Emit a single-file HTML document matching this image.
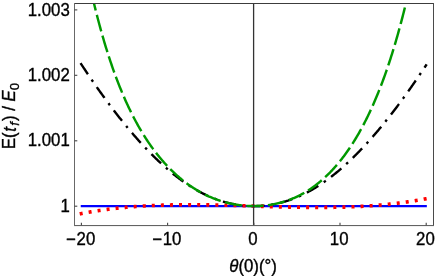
<!DOCTYPE html>
<html><head><meta charset="utf-8"><style>
html,body{margin:0;padding:0;background:#fff;}
body{width:436px;height:276px;overflow:hidden;position:relative;font-family:"Liberation Sans",sans-serif;}
svg{position:absolute;left:0;top:0;}
text{stroke:#000;stroke-width:0.35px;font-family:"Liberation Sans",sans-serif;font-size:17.5px;fill:#000;}
</style></head><body>
<svg width="436" height="276" viewBox="0 0 436 276">
<defs><clipPath id="c"><rect x="74.5" y="3.4" width="359.0" height="221.9"/></clipPath></defs>
<rect x="0" y="0" width="436" height="276" fill="#fff"/>
<g clip-path="url(#c)" fill="none">
<path d="M80.74 206.10 L253.78 206.10 L426.83 206.10" stroke="#0000ff" stroke-width="2.1"/>
<path d="M80.57 63.17 L81.14 64.05 L81.72 64.93 L82.30 65.81 L82.88 66.68 L83.45 67.55 L84.03 68.42 L84.61 69.29 L85.19 70.16 L85.77 71.02 L86.34 71.89 L86.92 72.75 L87.50 73.60 L88.08 74.46 L88.65 75.32 L89.23 76.17 L89.81 77.02 L90.39 77.87 L90.97 78.71 L91.54 79.56 L92.12 80.40 L92.70 81.24 L93.28 82.07 L93.85 82.91 L94.43 83.74 L95.01 84.57 L95.59 85.40 L96.17 86.23 L96.74 87.05 L97.32 87.87 L97.90 88.69 L98.48 89.51 L99.05 90.33 L99.63 91.14 L100.21 91.95 L100.79 92.76 L101.37 93.57 L101.94 94.37 L102.52 95.17 L103.10 95.97 L103.68 96.77 L104.25 97.57 L104.83 98.36 L105.41 99.15 L105.99 99.94 L106.57 100.72 L107.14 101.51 L107.72 102.29 L108.30 103.07 L108.88 103.84 L109.45 104.62 L110.03 105.39 L110.61 106.16 L111.19 106.93 L111.77 107.69 L112.34 108.45 L112.92 109.21 L113.50 109.97 L114.08 110.73 L114.65 111.48 L115.23 112.23 L115.81 112.98 L116.39 113.72 L116.97 114.47 L117.54 115.21 L118.12 115.95 L118.70 116.68 L119.28 117.41 L119.85 118.15 L120.43 118.87 L121.01 119.60 L121.59 120.32 L122.17 121.04 L122.74 121.76 L123.32 122.48 L123.90 123.19 L124.48 123.90 L125.06 124.61 L125.63 125.31 L126.21 126.02 L126.79 126.72 L127.37 127.42 L127.94 128.11 L128.52 128.80 L129.10 129.49 L129.68 130.18 L130.26 130.87 L130.83 131.55 L131.41 132.23 L131.99 132.91 L132.57 133.58 L133.14 134.25 L133.72 134.92 L134.30 135.59 L134.88 136.25 L135.46 136.91 L136.03 137.57 L136.61 138.23 L137.19 138.88 L137.77 139.53 L138.34 140.18 L138.92 140.82 L139.50 141.46 L140.08 142.10 L140.66 142.74 L141.23 143.37 L141.81 144.01 L142.39 144.63 L142.97 145.26 L143.54 145.88 L144.12 146.50 L144.70 147.12 L145.28 147.73 L145.86 148.35 L146.43 148.95 L147.01 149.56 L147.59 150.16 L148.17 150.76 L148.74 151.36 L149.32 151.96 L149.90 152.55 L150.48 153.14 L151.06 153.72 L151.63 154.31 L152.21 154.89 L152.79 155.46 L153.37 156.04 L153.94 156.61 L154.52 157.18 L155.10 157.74 L155.68 158.31 L156.26 158.87 L156.83 159.42 L157.41 159.98 L157.99 160.53 L158.57 161.07 L159.14 161.62 L159.72 162.16 L160.30 162.70 L160.88 163.23 L161.46 163.77 L162.03 164.30 L162.61 164.82 L163.19 165.35 L163.77 165.87 L164.34 166.38 L164.92 166.90 L165.50 167.41 L166.08 167.92 L166.66 168.42 L167.23 168.92 L167.81 169.42 L168.39 169.92 L168.97 170.41 L169.54 170.90 L170.12 171.38 L170.70 171.87 L171.28 172.34 L171.86 172.82 L172.43 173.29 L173.01 173.76 L173.59 174.23 L174.17 174.69 L174.74 175.15 L175.32 175.61 L175.90 176.06 L176.48 176.51 L177.06 176.96 L177.63 177.40 L178.21 177.84 L178.79 178.28 L179.37 178.71 L179.94 179.14 L180.52 179.57 L181.10 179.99 L181.68 180.42 L182.26 180.83 L182.83 181.25 L183.41 181.66 L183.99 182.06 L184.57 182.47 L185.14 182.87 L185.72 183.26 L186.30 183.66 L186.88 184.05 L187.46 184.43 L188.03 184.82 L188.61 185.19 L189.19 185.57 L189.77 185.94 L190.34 186.31 L190.92 186.68 L191.50 187.04 L192.08 187.40 L192.66 187.76 L193.23 188.11 L193.81 188.46 L194.39 188.80 L194.97 189.14 L195.54 189.48 L196.12 189.82 L196.70 190.15 L197.28 190.47 L197.86 190.80 L198.43 191.12 L199.01 191.44 L199.59 191.75 L200.17 192.06 L200.74 192.37 L201.32 192.67 L201.90 192.97 L202.48 193.27 L203.06 193.56 L203.63 193.85 L204.21 194.13 L204.79 194.42 L205.37 194.70 L205.94 194.97 L206.52 195.24 L207.10 195.51 L207.68 195.78 L208.26 196.04 L208.83 196.30 L209.41 196.55 L209.99 196.80 L210.57 197.05 L211.14 197.29 L211.72 197.53 L212.30 197.77 L212.88 198.00 L213.46 198.23 L214.03 198.46 L214.61 198.68 L215.19 198.90 L215.77 199.12 L216.34 199.33 L216.92 199.54 L217.50 199.75 L218.08 199.95 L218.66 200.15 L219.23 200.35 L219.81 200.54 L220.39 200.73 L220.97 200.92 L221.55 201.10 L222.12 201.28 L222.70 201.45 L223.28 201.63 L223.86 201.79 L224.43 201.96 L225.01 202.12 L225.59 202.28 L226.17 202.44 L226.75 202.59 L227.32 202.74 L227.90 202.88 L228.48 203.03 L229.06 203.16 L229.63 203.30 L230.21 203.43 L230.79 203.56 L231.37 203.69 L231.95 203.81 L232.52 203.93 L233.10 204.05 L233.68 204.16 L234.26 204.27 L234.83 204.37 L235.41 204.48 L235.99 204.58 L236.57 204.67 L237.15 204.77 L237.72 204.86 L238.30 204.94 L238.88 205.03 L239.46 205.11 L240.03 205.19 L240.61 205.26 L241.19 205.33 L241.77 205.40 L242.35 205.46 L242.92 205.53 L243.50 205.58 L244.08 205.64 L244.66 205.69 L245.23 205.74 L245.81 205.79 L246.39 205.83 L246.97 205.87 L247.55 205.91 L248.12 205.94 L248.70 205.97 L249.28 206.00 L249.86 206.02 L250.43 206.04 L251.01 206.06 L251.59 206.07 L252.17 206.08 L252.75 206.09 L253.32 206.10 L253.90 206.10 L254.48 206.10 L255.06 206.09 L255.63 206.09 L256.21 206.08 L256.79 206.06 L257.37 206.05 L257.95 206.03 L258.52 206.00 L259.10 205.98 L259.68 205.95 L260.26 205.92 L260.83 205.88 L261.41 205.84 L261.99 205.80 L262.57 205.76 L263.15 205.71 L263.72 205.66 L264.30 205.60 L264.88 205.55 L265.46 205.49 L266.03 205.42 L266.61 205.36 L267.19 205.29 L267.77 205.21 L268.35 205.14 L268.92 205.06 L269.50 204.97 L270.08 204.89 L270.66 204.80 L271.23 204.71 L271.81 204.61 L272.39 204.51 L272.97 204.41 L273.55 204.30 L274.12 204.20 L274.70 204.08 L275.28 203.97 L275.86 203.85 L276.43 203.73 L277.01 203.60 L277.59 203.48 L278.17 203.35 L278.75 203.21 L279.32 203.07 L279.90 202.93 L280.48 202.79 L281.06 202.64 L281.63 202.49 L282.21 202.33 L282.79 202.18 L283.37 202.02 L283.95 201.85 L284.52 201.68 L285.10 201.51 L285.68 201.34 L286.26 201.16 L286.83 200.98 L287.41 200.79 L287.99 200.61 L288.57 200.41 L289.15 200.22 L289.72 200.02 L290.30 199.82 L290.88 199.62 L291.46 199.41 L292.03 199.19 L292.61 198.98 L293.19 198.76 L293.77 198.54 L294.35 198.31 L294.92 198.08 L295.50 197.85 L296.08 197.62 L296.66 197.38 L297.23 197.13 L297.81 196.89 L298.39 196.64 L298.97 196.38 L299.55 196.13 L300.12 195.87 L300.70 195.60 L301.28 195.34 L301.86 195.06 L302.43 194.79 L303.01 194.51 L303.59 194.23 L304.17 193.95 L304.75 193.66 L305.32 193.37 L305.90 193.07 L306.48 192.77 L307.06 192.47 L307.63 192.17 L308.21 191.86 L308.79 191.54 L309.37 191.23 L309.95 190.91 L310.52 190.59 L311.10 190.26 L311.68 189.93 L312.26 189.60 L312.84 189.26 L313.41 188.92 L313.99 188.57 L314.57 188.23 L315.15 187.88 L315.72 187.52 L316.30 187.16 L316.88 186.80 L317.46 186.44 L318.04 186.07 L318.61 185.70 L319.19 185.32 L319.77 184.95 L320.35 184.56 L320.92 184.18 L321.50 183.79 L322.08 183.40 L322.66 183.00 L323.24 182.60 L323.81 182.20 L324.39 181.80 L324.97 181.39 L325.55 180.97 L326.12 180.56 L326.70 180.14 L327.28 179.72 L327.86 179.29 L328.44 178.86 L329.01 178.43 L329.59 177.99 L330.17 177.55 L330.75 177.11 L331.32 176.67 L331.90 176.22 L332.48 175.77 L333.06 175.31 L333.64 174.85 L334.21 174.39 L334.79 173.92 L335.37 173.46 L335.95 172.98 L336.52 172.51 L337.10 172.03 L337.68 171.55 L338.26 171.06 L338.84 170.58 L339.41 170.09 L339.99 169.59 L340.57 169.09 L341.15 168.59 L341.72 168.09 L342.30 167.58 L342.88 167.07 L343.46 166.56 L344.04 166.04 L344.61 165.53 L345.19 165.00 L345.77 164.48 L346.35 163.95 L346.92 163.42 L347.50 162.88 L348.08 162.35 L348.66 161.80 L349.24 161.26 L349.81 160.71 L350.39 160.17 L350.97 159.61 L351.55 159.06 L352.12 158.50 L352.70 157.94 L353.28 157.37 L353.86 156.80 L354.44 156.23 L355.01 155.66 L355.59 155.08 L356.17 154.51 L356.75 153.92 L357.32 153.34 L357.90 152.75 L358.48 152.16 L359.06 151.57 L359.64 150.97 L360.21 150.37 L360.79 149.77 L361.37 149.16 L361.95 148.55 L362.52 147.94 L363.10 147.33 L363.68 146.71 L364.26 146.10 L364.84 145.47 L365.41 144.85 L365.99 144.22 L366.57 143.59 L367.15 142.96 L367.72 142.32 L368.30 141.68 L368.88 141.04 L369.46 140.40 L370.04 139.75 L370.61 139.10 L371.19 138.45 L371.77 137.80 L372.35 137.14 L372.92 136.48 L373.50 135.81 L374.08 135.15 L374.66 134.48 L375.24 133.81 L375.81 133.14 L376.39 132.46 L376.97 131.78 L377.55 131.10 L378.12 130.42 L378.70 129.73 L379.28 129.04 L379.86 128.35 L380.44 127.65 L381.01 126.96 L381.59 126.26 L382.17 125.56 L382.75 124.85 L383.32 124.14 L383.90 123.43 L384.48 122.72 L385.06 122.01 L385.64 121.29 L386.21 120.57 L386.79 119.85 L387.37 119.12 L387.95 118.40 L388.52 117.67 L389.10 116.93 L389.68 116.20 L390.26 115.46 L390.84 114.72 L391.41 113.98 L391.99 113.23 L392.57 112.49 L393.15 111.74 L393.72 110.99 L394.30 110.23 L394.88 109.47 L395.46 108.72 L396.04 107.95 L396.61 107.19 L397.19 106.42 L397.77 105.65 L398.35 104.88 L398.92 104.11 L399.50 103.33 L400.08 102.56 L400.66 101.78 L401.24 100.99 L401.81 100.21 L402.39 99.42 L402.97 98.63 L403.55 97.84 L404.12 97.04 L404.70 96.25 L405.28 95.45 L405.86 94.65 L406.44 93.84 L407.01 93.04 L407.59 92.23 L408.17 91.42 L408.75 90.61 L409.33 89.79 L409.90 88.97 L410.48 88.16 L411.06 87.33 L411.64 86.51 L412.21 85.68 L412.79 84.86 L413.37 84.03 L413.95 83.19 L414.53 82.36 L415.10 81.52 L415.68 80.68 L416.26 79.84 L416.84 79.00 L417.41 78.16 L417.99 77.31 L418.57 76.46 L419.15 75.61 L419.73 74.75 L420.30 73.90 L420.88 73.04 L421.46 72.18 L422.04 71.32 L422.61 70.46 L423.19 69.59 L423.77 68.72 L424.35 67.85 L424.93 66.98 L425.50 66.11 L426.08 65.23 L426.66 64.35" stroke="#000" stroke-width="2.4" stroke-dasharray="13.3 6.54 2.5 6.54"/>
<path d="M79.70 213.89 L80.28 213.78 L80.87 213.66 L81.45 213.55 L82.03 213.44 L82.61 213.33 L83.19 213.22 L83.77 213.11 L84.35 213.00 L84.93 212.90 L85.51 212.79 L86.09 212.69 L86.68 212.58 L87.26 212.48 L87.84 212.38 L88.42 212.27 L89.00 212.17 L89.58 212.07 L90.16 211.97 L90.74 211.87 L91.32 211.78 L91.90 211.68 L92.48 211.58 L93.07 211.49 L93.65 211.39 L94.23 211.30 L94.81 211.21 L95.39 211.12 L95.97 211.02 L96.55 210.93 L97.13 210.84 L97.71 210.76 L98.29 210.67 L98.87 210.58 L99.46 210.49 L100.04 210.41 L100.62 210.32 L101.20 210.24 L101.78 210.16 L102.36 210.07 L102.94 209.99 L103.52 209.91 L104.10 209.83 L104.68 209.75 L105.27 209.67 L105.85 209.60 L106.43 209.52 L107.01 209.44 L107.59 209.37 L108.17 209.29 L108.75 209.22 L109.33 209.14 L109.91 209.07 L110.49 209.00 L111.07 208.93 L111.66 208.86 L112.24 208.79 L112.82 208.72 L113.40 208.65 L113.98 208.58 L114.56 208.51 L115.14 208.45 L115.72 208.38 L116.30 208.32 L116.88 208.25 L117.47 208.19 L118.05 208.13 L118.63 208.07 L119.21 208.00 L119.79 207.94 L120.37 207.88 L120.95 207.82 L121.53 207.77 L122.11 207.71 L122.69 207.65 L123.27 207.59 L123.86 207.54 L124.44 207.48 L125.02 207.43 L125.60 207.37 L126.18 207.32 L126.76 207.27 L127.34 207.22 L127.92 207.16 L128.50 207.11 L129.08 207.06 L129.67 207.01 L130.25 206.96 L130.83 206.92 L131.41 206.87 L131.99 206.82 L132.57 206.77 L133.15 206.73 L133.73 206.68 L134.31 206.64 L134.89 206.60 L135.47 206.55 L136.06 206.51 L136.64 206.47 L137.22 206.43 L137.80 206.38 L138.38 206.34 L138.96 206.30 L139.54 206.26 L140.12 206.23 L140.70 206.19 L141.28 206.15 L141.87 206.11 L142.45 206.08 L143.03 206.04 L143.61 206.01 L144.19 205.97 L144.77 205.94 L145.35 205.90 L145.93 205.87 L146.51 205.84 L147.09 205.81 L147.67 205.78 L148.26 205.74 L148.84 205.71 L149.42 205.68 L150.00 205.65 L150.58 205.63 L151.16 205.60 L151.74 205.57 L152.32 205.54 L152.90 205.52 L153.48 205.49 L154.07 205.46 L154.65 205.44 L155.23 205.42 L155.81 205.39 L156.39 205.37 L156.97 205.34 L157.55 205.32 L158.13 205.30 L158.71 205.28 L159.29 205.26 L159.87 205.24 L160.46 205.22 L161.04 205.20 L161.62 205.18 L162.20 205.16 L162.78 205.14 L163.36 205.12 L163.94 205.10 L164.52 205.09 L165.10 205.07 L165.68 205.06 L166.27 205.04 L166.85 205.02 L167.43 205.01 L168.01 205.00 L168.59 204.98 L169.17 204.97 L169.75 204.96 L170.33 204.94 L170.91 204.93 L171.49 204.92 L172.07 204.91 L172.66 204.90 L173.24 204.89 L173.82 204.88 L174.40 204.87 L174.98 204.86 L175.56 204.85 L176.14 204.84 L176.72 204.83 L177.30 204.82 L177.88 204.82 L178.47 204.81 L179.05 204.80 L179.63 204.80 L180.21 204.79 L180.79 204.79 L181.37 204.78 L181.95 204.78 L182.53 204.77 L183.11 204.77 L183.69 204.77 L184.27 204.76 L184.86 204.76 L185.44 204.76 L186.02 204.75 L186.60 204.75 L187.18 204.75 L187.76 204.75 L188.34 204.75 L188.92 204.75 L189.50 204.75 L190.08 204.75 L190.67 204.75 L191.25 204.75 L191.83 204.75 L192.41 204.75 L192.99 204.76 L193.57 204.76 L194.15 204.76 L194.73 204.76 L195.31 204.77 L195.89 204.77 L196.47 204.77 L197.06 204.78 L197.64 204.78 L198.22 204.79 L198.80 204.79 L199.38 204.80 L199.96 204.80 L200.54 204.81 L201.12 204.81 L201.70 204.82 L202.28 204.82 L202.87 204.83 L203.45 204.84 L204.03 204.85 L204.61 204.85 L205.19 204.86 L205.77 204.87 L206.35 204.88 L206.93 204.89 L207.51 204.89 L208.09 204.90 L208.67 204.91 L209.26 204.92 L209.84 204.93 L210.42 204.94 L211.00 204.95 L211.58 204.96 L212.16 204.97 L212.74 204.98 L213.32 204.99 L213.90 205.00 L214.48 205.02 L215.07 205.03 L215.65 205.04 L216.23 205.05 L216.81 205.06 L217.39 205.07 L217.97 205.09 L218.55 205.10 L219.13 205.11 L219.71 205.13 L220.29 205.14 L220.87 205.15 L221.46 205.17 L222.04 205.18 L222.62 205.19 L223.20 205.21 L223.78 205.22 L224.36 205.24 L224.94 205.25 L225.52 205.26 L226.10 205.28 L226.68 205.29 L227.27 205.31 L227.85 205.32 L228.43 205.34 L229.01 205.36 L229.59 205.37 L230.17 205.39 L230.75 205.40 L231.33 205.42 L231.91 205.43 L232.49 205.45 L233.07 205.47 L233.66 205.48 L234.24 205.50 L234.82 205.52 L235.40 205.53 L235.98 205.55 L236.56 205.57 L237.14 205.58 L237.72 205.60 L238.30 205.62 L238.88 205.63 L239.47 205.65 L240.05 205.67 L240.63 205.69 L241.21 205.70 L241.79 205.72 L242.37 205.74 L242.95 205.76 L243.53 205.77 L244.11 205.79 L244.69 205.81 L245.27 205.83 L245.86 205.85 L246.44 205.86 L247.02 205.88 L247.60 205.90 L248.18 205.92 L248.76 205.94 L249.34 205.95 L249.92 205.97 L250.50 205.99 L251.08 206.01 L251.66 206.03 L252.25 206.05 L252.83 206.06 L253.41 206.08 L253.99 206.10 L254.57 206.12 L255.15 206.14 L255.73 206.15 L256.31 206.17 L256.89 206.19 L257.47 206.21 L258.06 206.23 L258.64 206.25 L259.22 206.26 L259.80 206.28 L260.38 206.30 L260.96 206.32 L261.54 206.34 L262.12 206.35 L262.70 206.37 L263.28 206.39 L263.86 206.41 L264.45 206.42 L265.03 206.44 L265.61 206.46 L266.19 206.48 L266.77 206.50 L267.35 206.51 L267.93 206.53 L268.51 206.55 L269.09 206.56 L269.67 206.58 L270.26 206.60 L270.84 206.62 L271.42 206.63 L272.00 206.65 L272.58 206.67 L273.16 206.68 L273.74 206.70 L274.32 206.72 L274.90 206.73 L275.48 206.75 L276.06 206.77 L276.65 206.78 L277.23 206.80 L277.81 206.81 L278.39 206.83 L278.97 206.84 L279.55 206.86 L280.13 206.87 L280.71 206.89 L281.29 206.90 L281.87 206.92 L282.46 206.93 L283.04 206.95 L283.62 206.96 L284.20 206.98 L284.78 206.99 L285.36 207.01 L285.94 207.02 L286.52 207.03 L287.10 207.05 L287.68 207.06 L288.26 207.07 L288.85 207.09 L289.43 207.10 L290.01 207.11 L290.59 207.12 L291.17 207.14 L291.75 207.15 L292.33 207.16 L292.91 207.17 L293.49 207.18 L294.07 207.20 L294.66 207.21 L295.24 207.22 L295.82 207.23 L296.40 207.24 L296.98 207.25 L297.56 207.26 L298.14 207.27 L298.72 207.28 L299.30 207.29 L299.88 207.30 L300.46 207.31 L301.05 207.31 L301.63 207.32 L302.21 207.33 L302.79 207.34 L303.37 207.35 L303.95 207.35 L304.53 207.36 L305.11 207.37 L305.69 207.38 L306.27 207.38 L306.86 207.39 L307.44 207.39 L308.02 207.40 L308.60 207.40 L309.18 207.41 L309.76 207.41 L310.34 207.42 L310.92 207.42 L311.50 207.43 L312.08 207.43 L312.66 207.43 L313.25 207.44 L313.83 207.44 L314.41 207.44 L314.99 207.44 L315.57 207.45 L316.15 207.45 L316.73 207.45 L317.31 207.45 L317.89 207.45 L318.47 207.45 L319.06 207.45 L319.64 207.45 L320.22 207.45 L320.80 207.45 L321.38 207.45 L321.96 207.45 L322.54 207.44 L323.12 207.44 L323.70 207.44 L324.28 207.43 L324.86 207.43 L325.45 207.43 L326.03 207.42 L326.61 207.42 L327.19 207.41 L327.77 207.41 L328.35 207.40 L328.93 207.40 L329.51 207.39 L330.09 207.38 L330.67 207.38 L331.26 207.37 L331.84 207.36 L332.42 207.35 L333.00 207.34 L333.58 207.33 L334.16 207.32 L334.74 207.31 L335.32 207.30 L335.90 207.29 L336.48 207.28 L337.06 207.27 L337.65 207.26 L338.23 207.25 L338.81 207.23 L339.39 207.22 L339.97 207.21 L340.55 207.19 L341.13 207.18 L341.71 207.16 L342.29 207.15 L342.87 207.13 L343.46 207.11 L344.04 207.10 L344.62 207.08 L345.20 207.06 L345.78 207.04 L346.36 207.02 L346.94 207.00 L347.52 206.98 L348.10 206.96 L348.68 206.94 L349.26 206.92 L349.85 206.90 L350.43 206.88 L351.01 206.86 L351.59 206.83 L352.17 206.81 L352.75 206.79 L353.33 206.76 L353.91 206.74 L354.49 206.71 L355.07 206.68 L355.66 206.66 L356.24 206.63 L356.82 206.60 L357.40 206.57 L357.98 206.55 L358.56 206.52 L359.14 206.49 L359.72 206.46 L360.30 206.43 L360.88 206.39 L361.46 206.36 L362.05 206.33 L362.63 206.30 L363.21 206.26 L363.79 206.23 L364.37 206.20 L364.95 206.16 L365.53 206.12 L366.11 206.09 L366.69 206.05 L367.27 206.01 L367.86 205.98 L368.44 205.94 L369.02 205.90 L369.60 205.86 L370.18 205.82 L370.76 205.78 L371.34 205.73 L371.92 205.69 L372.50 205.65 L373.08 205.61 L373.66 205.56 L374.25 205.52 L374.83 205.47 L375.41 205.43 L375.99 205.38 L376.57 205.33 L377.15 205.29 L377.73 205.24 L378.31 205.19 L378.89 205.14 L379.47 205.09 L380.06 205.04 L380.64 204.99 L381.22 204.93 L381.80 204.88 L382.38 204.83 L382.96 204.77 L383.54 204.72 L384.12 204.66 L384.70 204.61 L385.28 204.55 L385.86 204.49 L386.45 204.44 L387.03 204.38 L387.61 204.32 L388.19 204.26 L388.77 204.20 L389.35 204.14 L389.93 204.07 L390.51 204.01 L391.09 203.95 L391.67 203.88 L392.26 203.82 L392.84 203.75 L393.42 203.69 L394.00 203.62 L394.58 203.55 L395.16 203.48 L395.74 203.42 L396.32 203.35 L396.90 203.28 L397.48 203.20 L398.06 203.13 L398.65 203.06 L399.23 202.99 L399.81 202.91 L400.39 202.84 L400.97 202.76 L401.55 202.68 L402.13 202.61 L402.71 202.53 L403.29 202.45 L403.87 202.37 L404.45 202.29 L405.04 202.21 L405.62 202.13 L406.20 202.05 L406.78 201.96 L407.36 201.88 L407.94 201.79 L408.52 201.71 L409.10 201.62 L409.68 201.54 L410.26 201.45 L410.85 201.36 L411.43 201.27 L412.01 201.18 L412.59 201.09 L413.17 201.00 L413.75 200.90 L414.33 200.81 L414.91 200.72 L415.49 200.62 L416.07 200.52 L416.65 200.43 L417.24 200.33 L417.82 200.23 L418.40 200.13 L418.98 200.03 L419.56 199.93 L420.14 199.83 L420.72 199.73 L421.30 199.62 L421.88 199.52 L422.46 199.41 L423.05 199.31 L423.63 199.20 L424.21 199.09 L424.79 198.98 L425.37 198.87 L425.95 198.76 L426.53 198.65 L427.11 198.54 L427.69 198.43" stroke="#ff0000" stroke-width="3.6" stroke-dasharray="3 6.08"/>
<path d="M91.08 -8.93 L91.61 -6.62 L92.14 -4.34 L92.67 -2.08 L93.20 0.15 L93.73 2.36 L94.26 4.55 L94.79 6.72 L95.32 8.86 L95.85 10.98 L96.38 13.08 L96.91 15.15 L97.44 17.21 L97.97 19.24 L98.50 21.25 L99.03 23.24 L99.56 25.21 L100.08 27.16 L100.61 29.08 L101.14 30.99 L101.67 32.88 L102.20 34.75 L102.73 36.60 L103.26 38.43 L103.79 40.24 L104.32 42.03 L104.85 43.80 L105.38 45.56 L105.91 47.29 L106.44 49.01 L106.97 50.71 L107.50 52.39 L108.03 54.06 L108.56 55.71 L109.09 57.34 L109.62 58.95 L110.15 60.55 L110.68 62.13 L111.21 63.70 L111.74 65.25 L112.27 66.78 L112.79 68.30 L113.32 69.80 L113.85 71.29 L114.38 72.76 L114.91 74.22 L115.44 75.66 L115.97 77.09 L116.50 78.50 L117.03 79.90 L117.56 81.28 L118.09 82.65 L118.62 84.01 L119.15 85.35 L119.68 86.68 L120.21 88.00 L120.74 89.30 L121.27 90.59 L121.80 91.87 L122.33 93.13 L122.86 94.38 L123.39 95.62 L123.92 96.85 L124.45 98.06 L124.97 99.27 L125.50 100.46 L126.03 101.64 L126.56 102.80 L127.09 103.96 L127.62 105.10 L128.15 106.24 L128.68 107.36 L129.21 108.47 L129.74 109.57 L130.27 110.66 L130.80 111.74 L131.33 112.81 L131.86 113.86 L132.39 114.91 L132.92 115.95 L133.45 116.98 L133.98 118.00 L134.51 119.00 L135.04 120.00 L135.57 120.99 L136.10 121.97 L136.63 122.94 L137.16 123.90 L137.68 124.85 L138.21 125.79 L138.74 126.73 L139.27 127.65 L139.80 128.57 L140.33 129.47 L140.86 130.37 L141.39 131.26 L141.92 132.14 L142.45 133.02 L142.98 133.88 L143.51 134.74 L144.04 135.59 L144.57 136.43 L145.10 137.26 L145.63 138.08 L146.16 138.90 L146.69 139.71 L147.22 140.51 L147.75 141.31 L148.28 142.10 L148.81 142.88 L149.34 143.65 L149.86 144.41 L150.39 145.17 L150.92 145.92 L151.45 146.67 L151.98 147.41 L152.51 148.14 L153.04 148.86 L153.57 149.58 L154.10 150.29 L154.63 150.99 L155.16 151.69 L155.69 152.38 L156.22 153.07 L156.75 153.74 L157.28 154.42 L157.81 155.08 L158.34 155.74 L158.87 156.39 L159.40 157.04 L159.93 157.68 L160.46 158.32 L160.99 158.95 L161.52 159.57 L162.05 160.19 L162.57 160.80 L163.10 161.41 L163.63 162.01 L164.16 162.61 L164.69 163.20 L165.22 163.78 L165.75 164.36 L166.28 164.94 L166.81 165.50 L167.34 166.07 L167.87 166.62 L168.40 167.18 L168.93 167.72 L169.46 168.27 L169.99 168.80 L170.52 169.34 L171.05 169.86 L171.58 170.39 L172.11 170.90 L172.64 171.41 L173.17 171.92 L173.70 172.42 L174.23 172.92 L174.76 173.41 L175.28 173.90 L175.81 174.39 L176.34 174.87 L176.87 175.34 L177.40 175.81 L177.93 176.27 L178.46 176.73 L178.99 177.19 L179.52 177.64 L180.05 178.09 L180.58 178.53 L181.11 178.97 L181.64 179.40 L182.17 179.83 L182.70 180.26 L183.23 180.68 L183.76 181.09 L184.29 181.51 L184.82 181.91 L185.35 182.32 L185.88 182.72 L186.41 183.11 L186.94 183.51 L187.46 183.89 L187.99 184.28 L188.52 184.66 L189.05 185.03 L189.58 185.40 L190.11 185.77 L190.64 186.13 L191.17 186.49 L191.70 186.85 L192.23 187.20 L192.76 187.55 L193.29 187.89 L193.82 188.23 L194.35 188.57 L194.88 188.90 L195.41 189.23 L195.94 189.55 L196.47 189.87 L197.00 190.19 L197.53 190.51 L198.06 190.82 L198.59 191.12 L199.12 191.43 L199.65 191.73 L200.17 192.02 L200.70 192.31 L201.23 192.60 L201.76 192.89 L202.29 193.17 L202.82 193.45 L203.35 193.72 L203.88 194.00 L204.41 194.26 L204.94 194.53 L205.47 194.79 L206.00 195.05 L206.53 195.30 L207.06 195.55 L207.59 195.80 L208.12 196.04 L208.65 196.29 L209.18 196.52 L209.71 196.76 L210.24 196.99 L210.77 197.22 L211.30 197.44 L211.83 197.66 L212.35 197.88 L212.88 198.10 L213.41 198.31 L213.94 198.52 L214.47 198.72 L215.00 198.93 L215.53 199.13 L216.06 199.32 L216.59 199.52 L217.12 199.71 L217.65 199.89 L218.18 200.08 L218.71 200.26 L219.24 200.44 L219.77 200.61 L220.30 200.79 L220.83 200.96 L221.36 201.12 L221.89 201.29 L222.42 201.45 L222.95 201.60 L223.48 201.76 L224.01 201.91 L224.54 202.06 L225.06 202.21 L225.59 202.35 L226.12 202.49 L226.65 202.63 L227.18 202.76 L227.71 202.90 L228.24 203.02 L228.77 203.15 L229.30 203.28 L229.83 203.40 L230.36 203.51 L230.89 203.63 L231.42 203.74 L231.95 203.85 L232.48 203.96 L233.01 204.07 L233.54 204.17 L234.07 204.27 L234.60 204.36 L235.13 204.46 L235.66 204.55 L236.19 204.64 L236.72 204.72 L237.24 204.81 L237.77 204.89 L238.30 204.96 L238.83 205.04 L239.36 205.11 L239.89 205.18 L240.42 205.25 L240.95 205.32 L241.48 205.38 L242.01 205.44 L242.54 205.50 L243.07 205.55 L243.60 205.60 L244.13 205.65 L244.66 205.70 L245.19 205.74 L245.72 205.78 L246.25 205.82 L246.78 205.86 L247.31 205.89 L247.84 205.92 L248.37 205.95 L248.90 205.98 L249.43 206.00 L249.95 206.02 L250.48 206.04 L251.01 206.06 L251.54 206.07 L252.07 206.08 L252.60 206.09 L253.13 206.10 L253.66 206.10 L254.19 206.10 L254.72 206.10 L255.25 206.09 L255.78 206.09 L256.31 206.08 L256.84 206.06 L257.37 206.05 L257.90 206.03 L258.43 206.01 L258.96 205.99 L259.49 205.96 L260.02 205.93 L260.55 205.90 L261.08 205.87 L261.61 205.83 L262.14 205.79 L262.66 205.75 L263.19 205.70 L263.72 205.66 L264.25 205.61 L264.78 205.55 L265.31 205.50 L265.84 205.44 L266.37 205.38 L266.90 205.31 L267.43 205.25 L267.96 205.18 L268.49 205.11 L269.02 205.03 L269.55 204.95 L270.08 204.87 L270.61 204.79 L271.14 204.70 L271.67 204.61 L272.20 204.52 L272.73 204.42 L273.26 204.33 L273.79 204.22 L274.32 204.12 L274.84 204.01 L275.37 203.90 L275.90 203.79 L276.43 203.67 L276.96 203.55 L277.49 203.43 L278.02 203.31 L278.55 203.18 L279.08 203.05 L279.61 202.91 L280.14 202.77 L280.67 202.63 L281.20 202.49 L281.73 202.34 L282.26 202.19 L282.79 202.04 L283.32 201.88 L283.85 201.72 L284.38 201.55 L284.91 201.39 L285.44 201.22 L285.97 201.04 L286.50 200.86 L287.03 200.68 L287.55 200.50 L288.08 200.31 L288.61 200.12 L289.14 199.93 L289.67 199.73 L290.20 199.53 L290.73 199.32 L291.26 199.11 L291.79 198.90 L292.32 198.68 L292.85 198.46 L293.38 198.24 L293.91 198.01 L294.44 197.78 L294.97 197.55 L295.50 197.31 L296.03 197.07 L296.56 196.82 L297.09 196.57 L297.62 196.32 L298.15 196.06 L298.68 195.80 L299.21 195.53 L299.73 195.26 L300.26 194.99 L300.79 194.71 L301.32 194.43 L301.85 194.15 L302.38 193.86 L302.91 193.56 L303.44 193.27 L303.97 192.97 L304.50 192.66 L305.03 192.35 L305.56 192.04 L306.09 191.72 L306.62 191.39 L307.15 191.07 L307.68 190.73 L308.21 190.40 L308.74 190.06 L309.27 189.71 L309.80 189.37 L310.33 189.01 L310.86 188.65 L311.39 188.29 L311.92 187.92 L312.44 187.55 L312.97 187.18 L313.50 186.80 L314.03 186.41 L314.56 186.02 L315.09 185.62 L315.62 185.22 L316.15 184.82 L316.68 184.41 L317.21 184.00 L317.74 183.58 L318.27 183.15 L318.80 182.73 L319.33 182.29 L319.86 181.85 L320.39 181.41 L320.92 180.96 L321.45 180.51 L321.98 180.05 L322.51 179.58 L323.04 179.12 L323.57 178.64 L324.10 178.16 L324.62 177.68 L325.15 177.19 L325.68 176.69 L326.21 176.19 L326.74 175.68 L327.27 175.17 L327.80 174.65 L328.33 174.13 L328.86 173.60 L329.39 173.07 L329.92 172.53 L330.45 171.98 L330.98 171.43 L331.51 170.88 L332.04 170.31 L332.57 169.75 L333.10 169.17 L333.63 168.59 L334.16 168.00 L334.69 167.41 L335.22 166.81 L335.75 166.21 L336.28 165.60 L336.81 164.98 L337.33 164.36 L337.86 163.73 L338.39 163.10 L338.92 162.46 L339.45 161.81 L339.98 161.15 L340.51 160.49 L341.04 159.82 L341.57 159.15 L342.10 158.47 L342.63 157.78 L343.16 157.09 L343.69 156.39 L344.22 155.68 L344.75 154.96 L345.28 154.24 L345.81 153.51 L346.34 152.78 L346.87 152.04 L347.40 151.29 L347.93 150.53 L348.46 149.76 L348.99 148.99 L349.52 148.21 L350.04 147.42 L350.57 146.63 L351.10 145.83 L351.63 145.02 L352.16 144.20 L352.69 143.37 L353.22 142.54 L353.75 141.70 L354.28 140.85 L354.81 139.99 L355.34 139.13 L355.87 138.25 L356.40 137.37 L356.93 136.48 L357.46 135.58 L357.99 134.67 L358.52 133.76 L359.05 132.83 L359.58 131.90 L360.11 130.96 L360.64 130.00 L361.17 129.04 L361.70 128.07 L362.22 127.09 L362.75 126.11 L363.28 125.11 L363.81 124.10 L364.34 123.08 L364.87 122.06 L365.40 121.02 L365.93 119.98 L366.46 118.92 L366.99 117.85 L367.52 116.78 L368.05 115.69 L368.58 114.59 L369.11 113.49 L369.64 112.37 L370.17 111.24 L370.70 110.10 L371.23 108.95 L371.76 107.79 L372.29 106.62 L372.82 105.43 L373.35 104.24 L373.88 103.03 L374.41 101.81 L374.93 100.58 L375.46 99.34 L375.99 98.09 L376.52 96.82 L377.05 95.55 L377.58 94.26 L378.11 92.95 L378.64 91.64 L379.17 90.31 L379.70 88.97 L380.23 87.62 L380.76 86.25 L381.29 84.87 L381.82 83.48 L382.35 82.07 L382.88 80.65 L383.41 79.22 L383.94 77.77 L384.47 76.31 L385.00 74.84 L385.53 73.34 L386.06 71.84 L386.59 70.32 L387.11 68.79 L387.64 67.24 L388.17 65.67 L388.70 64.09 L389.23 62.50 L389.76 60.89 L390.29 59.26 L390.82 57.62 L391.35 55.96 L391.88 54.28 L392.41 52.59 L392.94 50.88 L393.47 49.16 L394.00 47.42 L394.53 45.66 L395.06 43.88 L395.59 42.09 L396.12 40.27 L396.65 38.44 L397.18 36.60 L397.71 34.73 L398.24 32.85 L398.77 30.94 L399.30 29.02 L399.82 27.08 L400.35 25.12 L400.88 23.14 L401.41 21.14 L401.94 19.12 L402.47 17.08 L403.00 15.02 L403.53 12.93 L404.06 10.83 L404.59 8.71 L405.12 6.57 L405.65 4.40 L406.18 2.21 L406.71 0.00 L407.24 -2.23 L407.77 -4.48 L408.30 -6.76" stroke="#009900" stroke-width="2.45" stroke-dasharray="17.05 4.55" stroke-dashoffset="18.75"/>
</g>
<g stroke-width="1" fill="none">
<line x1="74" y1="3.5" x2="434" y2="3.5" stroke="#3c3c3c"/>
<line x1="433.5" y1="3" x2="433.5" y2="226" stroke="#4a4a4a"/>
<line x1="74" y1="225.5" x2="434" y2="225.5" stroke="#484848"/>
<line x1="74" y1="226.2" x2="434" y2="226.2" stroke="#ddd" stroke-width="0.6"/>
<line x1="74.5" y1="3" x2="74.5" y2="226" stroke="#686868"/>
<line x1="253.6" y1="4" x2="253.6" y2="225" stroke="#333" stroke-width="1.3"/>
</g>
<g stroke="#444" stroke-width="1.1">
<line x1="81.4" y1="225.3" x2="81.4" y2="222.70000000000002"/>
<line x1="167.6" y1="225.3" x2="167.6" y2="222.70000000000002"/>
<line x1="253.8" y1="225.3" x2="253.8" y2="222.70000000000002"/>
<line x1="340.0" y1="225.3" x2="340.0" y2="222.70000000000002"/>
<line x1="426.2" y1="225.3" x2="426.2" y2="222.70000000000002"/>
<line x1="74.5" y1="206.2" x2="77.3" y2="206.2"/>
<line x1="74.5" y1="140.8" x2="77.3" y2="140.8"/>
<line x1="74.5" y1="75.3" x2="77.3" y2="75.3"/>
<line x1="74.5" y1="9.9" x2="77.3" y2="9.9"/>
</g>
<g style="filter:grayscale(1)">
<text transform="translate(80.6,244.7) scale(0.96,1)" text-anchor="middle">−<tspan dx="0.8">20</tspan></text>
<text transform="translate(166.8,244.7) scale(0.96,1)" text-anchor="middle">−<tspan dx="0.8">10</tspan></text>
<text transform="translate(253.0,244.7) scale(0.96,1)" text-anchor="middle">0</text>
<text transform="translate(339.2,244.7) scale(0.96,1)" text-anchor="middle">10</text>
<text transform="translate(425.4,244.7) scale(0.96,1)" text-anchor="middle">20</text>
<text transform="translate(69.8,211.9) scale(0.96,1)" text-anchor="end">1</text>
<text transform="translate(69.8,146.4) scale(0.96,1)" text-anchor="end">1.001</text>
<text transform="translate(69.8,81.0) scale(0.96,1)" text-anchor="end">1.002</text>
<text transform="translate(69.8,15.5) scale(0.96,1)" text-anchor="end">1.003</text>
<text transform="translate(229.3,271.5) scale(0.96,1)"><tspan font-style="italic">θ</tspan>(0)(°)</text>
<text transform="translate(14.6,149.3) rotate(-90) scale(0.96,1)">E(<tspan font-style="italic" dx="0.9" dy="1.6">t</tspan><tspan font-style="italic" font-size="13.7px" dx="1.2" dy="2.4">f</tspan><tspan dx="1.2" dy="-4">)</tspan> / <tspan font-style="italic">E</tspan><tspan font-size="13.7px" dy="4">0</tspan></text>
</g>
</svg></body></html>
